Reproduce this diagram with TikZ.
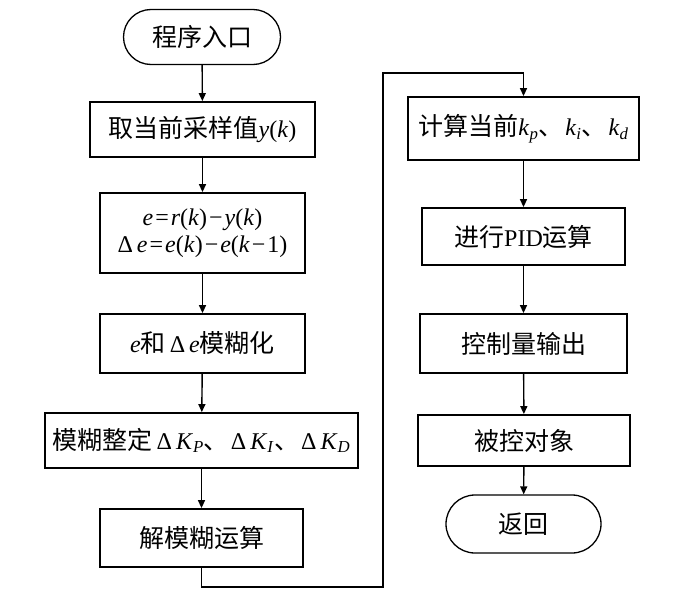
\documentclass[tikz,border=0pt]{standalone}
\usepackage{fontspec}
\setmainfont{Liberation Serif}
\newfontfamily\cjkfam{Noto Sans CJK SC}
\newcommand{\zh}[1]{{\cjkfam\fontsize{25}{29}\selectfont #1}}
\usetikzlibrary{arrows.meta,shapes.misc}
\newcommand{\mi}[1]{\textit{#1}}
\newcommand{\ts}{\kern2pt}
\begin{document}
\begin{tikzpicture}[x=1pt,y=-1pt,
  every node/.style={font=\fontsize{24}{29}\selectfont, inner sep=0pt, align=center},
  procbox/.style={draw, line width=1.8pt, rectangle},
  termbox/.style={draw, line width=1.3pt, rounded rectangle},
  arr/.style={line width=1.4pt, -{Triangle[length=8pt,width=7pt]}}]
\useasboundingbox (0,0) rectangle (676,610);
% left column
\node[termbox, minimum width=157pt, minimum height=55pt] (t0) at (202,37) {\zh{程序入口}};
\node[procbox, minimum width=225pt, minimum height=55pt] (b1) at (202.5,129.5) {\zh{取当前采样值}\mi{y}(\mi{k})};
\node[procbox, minimum width=205pt, minimum height=80pt] (b2) at (202.5,233) {\mi{e}\ts=\ts\mi{r}(\mi{k})\ts−\ts\mi{y}(\mi{k})\\[-2pt] Δ\,\mi{e}\ts=\ts\mi{e}(\mi{k})\ts−\ts\mi{e}(\mi{k}\ts−\ts1)};
\node[procbox, minimum width=205pt, minimum height=59pt] (b3) at (202.5,343.5) {\mi{e}\zh{和}\,Δ\,\mi{e}\zh{模糊化}};
\node[procbox, minimum width=313pt, minimum height=55pt] (b4) at (201.5,440.5) {\zh{模糊整定}\,Δ\,\mi{K}\textsubscript{\mi{P}}\zh{、}\ts Δ\,\mi{K}\textsubscript{\mi{I}}\zh{、}\ts Δ\,\mi{K}\textsubscript{\mi{D}}};
\node[procbox, minimum width=203pt, minimum height=58pt] (b5) at (201.5,538) {\zh{解模糊运算}};
% right column
\node[procbox, minimum width=231pt, minimum height=63pt] (b6) at (523.5,128.5) {\zh{计算当前}\mi{k}\textsubscript{\mi{p}}\zh{、}\ts\mi{k}\textsubscript{\mi{i}}\zh{、}\ts\mi{k}\textsubscript{\mi{d}}};
\node[procbox, minimum width=203pt, minimum height=57pt] (b7) at (523.5,236.5) {\zh{进行}PID\zh{运算}};
\node[procbox, minimum width=207pt, minimum height=59pt] (b8) at (523.5,343.5) {\zh{控制量输出}};
\node[procbox, minimum width=212pt, minimum height=51pt] (b9) at (524,440.5) {\zh{被控对象}};
\node[termbox, minimum width=155pt, minimum height=58pt] (t1) at (523.5,524) {\zh{返回}};
% connectors
\coordinate (c1) at (383,587);
\coordinate (c2) at (383,73);
\draw[arr] (t0) -- (b1);
\draw[arr] (b1) -- (b2);
\draw[arr] (b2) -- (b3);
\draw[arr] (b3) -- (b4);
\draw[arr] (b4.south -| b5.north) -- (b5.north);
\draw[arr] (b5.south) |- (c1) -- (c2) -| (b6.north);
\draw[arr] (b6) -- (b7);
\draw[arr] (b7) -- (b8);
\draw[arr] (b8) -- (b9);
\draw[arr] (b9) -- (t1);
\end{tikzpicture}
\end{document}
